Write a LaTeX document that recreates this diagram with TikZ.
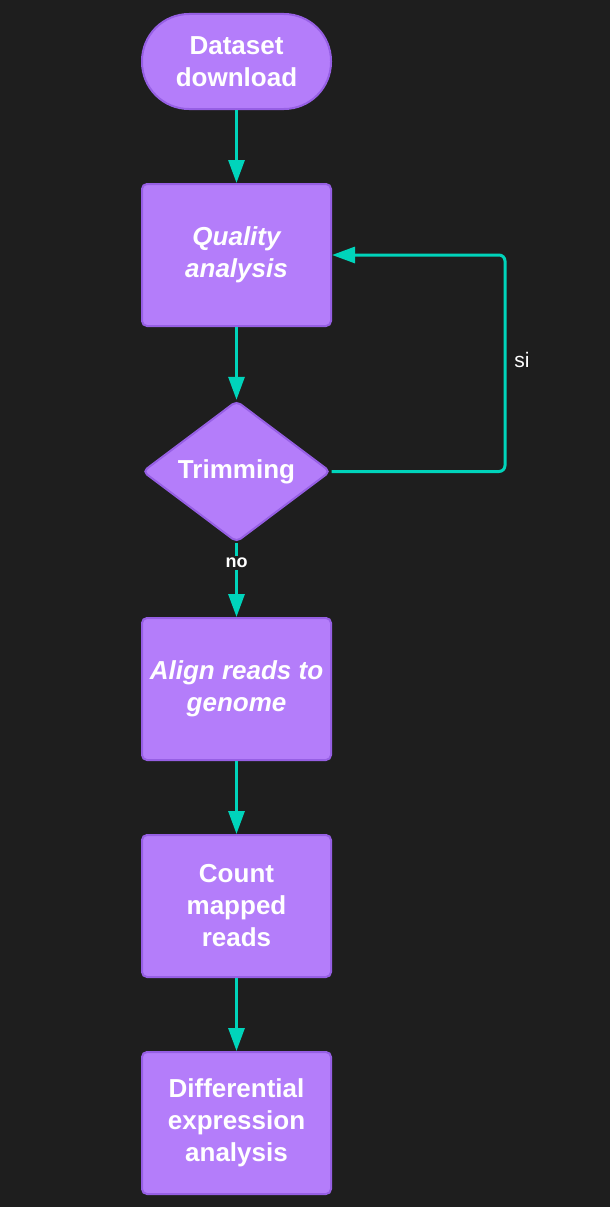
\documentclass[tikz,border=0pt]{standalone}
\usepackage{fontspec}
\setmainfont{Liberation Sans}
\usetikzlibrary{arrows.meta,shapes.geometric}
\definecolor{myBack}{RGB}{30,30,30}
\definecolor{myFill}{RGB}{180,125,250}
\definecolor{myEdge}{RGB}{150,95,228}
\definecolor{myTeal}{RGB}{0,212,187}

\tikzset{
  box/.style={draw=myEdge, fill=myFill, line width=2pt, rounded corners=5pt,
    minimum width=189pt, minimum height=142pt, inner sep=0pt, align=center,
    text=white, font=\fontsize{26pt}{32pt}\selectfont\bfseries},
  startbox/.style={box, minimum height=95pt, rounded corners=47pt},
  choice/.style={box, diamond, minimum width=188pt, minimum height=141pt},
  flow/.style={myTeal, line width=3pt, -{Triangle[length=23pt,width=16pt]}},
}

\begin{document}
\begin{tikzpicture}[x=1pt,y=-1pt]
                \fill[myBack] (0,0) rectangle (610,1207);
                \useasboundingbox (0,0) rectangle (610,1207);

                \node[startbox] (dl) at (236.5,61.5) {Dataset\\download};
                \node[box] (qual) at (236.5,255) {\itshape Quality\\\itshape analysis};
                \node[choice] (trim) at (236.5,471.5) {Trimming};
                \node[box] (align) at (236.5,689) {\itshape Align reads to\\\itshape genome};
                \node[box] (count) at (236.5,906) {Count\\mapped\\reads};
                \node[box] (diff) at (236.5,1123) {Differential\\expression\\analysis};
                \coordinate (loop) at (505,255);

                \draw[flow] (dl) -- (qual);
                \draw[flow] (qual) -- (trim);
                \draw[flow] (trim) -- node[pos=0.27, fill=myBack, text=white, inner sep=2pt,
                    font=\fontsize{18pt}{20pt}\selectfont\bfseries] {no} (align);
                \draw[flow] (align) -- (count);
                \draw[flow] (count) -- (diff);
                \draw[flow, rounded corners=6pt] (trim.east) -| (loop) -- (qual.east);
                \node[text=white, font=\fontsize{21pt}{24pt}\selectfont] (si) at (522,360) {si};
\end{tikzpicture}
\end{document}
